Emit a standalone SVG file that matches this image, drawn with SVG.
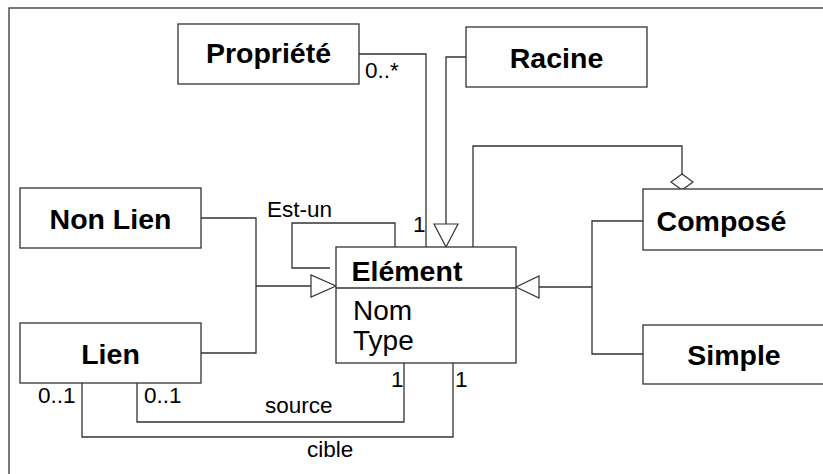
<svg xmlns="http://www.w3.org/2000/svg" width="823" height="474" viewBox="0 0 823 474">
<style>
.box{fill:#fff;stroke:#333;stroke-width:1.3}
.ln{fill:none;stroke:#333;stroke-width:1.3}
.hd{fill:#fff;stroke:#333;stroke-width:1.2}
.t{font-family:"Liberation Sans",Arial,sans-serif;font-weight:bold;font-size:28.5px;fill:#000}
.a{font-family:"Liberation Sans",Arial,sans-serif;font-size:28px;fill:#000}
.l{font-family:"Liberation Sans",Arial,sans-serif;font-size:22.5px;fill:#000}
</style>
<rect x="0" y="0" width="823" height="474" fill="#fff"/>
<rect x="9" y="8" width="900" height="600" fill="none" stroke="#333" stroke-width="1.3"/>
<g id="connectors">
  <polyline class="ln" points="359,54 426,54 426,247"/>
  <polyline class="ln" points="466,57 446,57 446,224"/>
  <polygon class="hd" points="434,224 458,224 446,247"/>
  <polyline class="ln" points="473,247 473,146 682,146 682,174"/>
  <polygon class="hd" points="682,174 693,182 682,190 671,182"/>
  <polyline class="ln" points="395,247 395,223 292,223 292,268 330,268"/>
  <polyline class="ln" points="201,218 256,218 256,353 201,353"/>
  <line class="ln" x1="256" y1="286" x2="311" y2="286"/>
  <polygon class="hd" points="311,275 311,297 336,286"/>
  <polyline class="ln" points="643,221 592,221 592,354 643,354"/>
  <line class="ln" x1="592" y1="287" x2="539" y2="287"/>
  <polygon class="hd" points="539,276 539,298 516,287"/>
  <polyline class="ln" points="137,383 137,422 404,422 404,363"/>
  <polyline class="ln" points="82,383 82,437 453,437 453,363"/>
  <text class="l" x="365" y="78">0..*</text>
  <text class="l" x="413" y="232">1</text>
  <text class="l" x="267" y="217">Est-un</text>
  <text class="l" x="38" y="403">0..1</text>
  <text class="l" x="144" y="403">0..1</text>
  <text class="l" x="391" y="387">1</text>
  <text class="l" x="455" y="387">1</text>
  <text class="l" x="265" y="413">source</text>
  <text class="l" x="307" y="457">cible</text>
</g>
<g id="propriete">
  <rect class="box" x="178" y="24" width="181" height="60"/>
  <text class="t" x="268.5" y="63" text-anchor="middle">Propriété</text>
</g>
<g id="racine">
  <rect class="box" x="466" y="27" width="181" height="60"/>
  <text class="t" x="556.5" y="68" text-anchor="middle">Racine</text>
</g>
<g id="nonlien">
  <rect class="box" x="20" y="188" width="181" height="60"/>
  <text class="t" x="110.5" y="229" text-anchor="middle">Non Lien</text>
</g>
<g id="lien">
  <rect class="box" x="20" y="323" width="181" height="60"/>
  <text class="t" x="110.5" y="364" text-anchor="middle">Lien</text>
</g>
<g id="element">
  <rect class="box" x="336" y="247" width="180" height="116"/>
  <line class="ln" x1="336" y1="288" x2="516" y2="288"/>
  <text class="t" x="351.5" y="281">Elément</text>
  <text class="a" x="353" y="319.5">Nom</text>
  <text class="a" x="353" y="349.5">Type</text>
</g>
<g id="compose">
  <rect class="box" x="643" y="189" width="200" height="61"/>
  <text class="t" x="721.5" y="231" text-anchor="middle">Composé</text>
</g>
<g id="simple">
  <rect class="box" x="643" y="325" width="200" height="59"/>
  <text class="t" x="734" y="365" text-anchor="middle">Simple</text>
</g>
</svg>
